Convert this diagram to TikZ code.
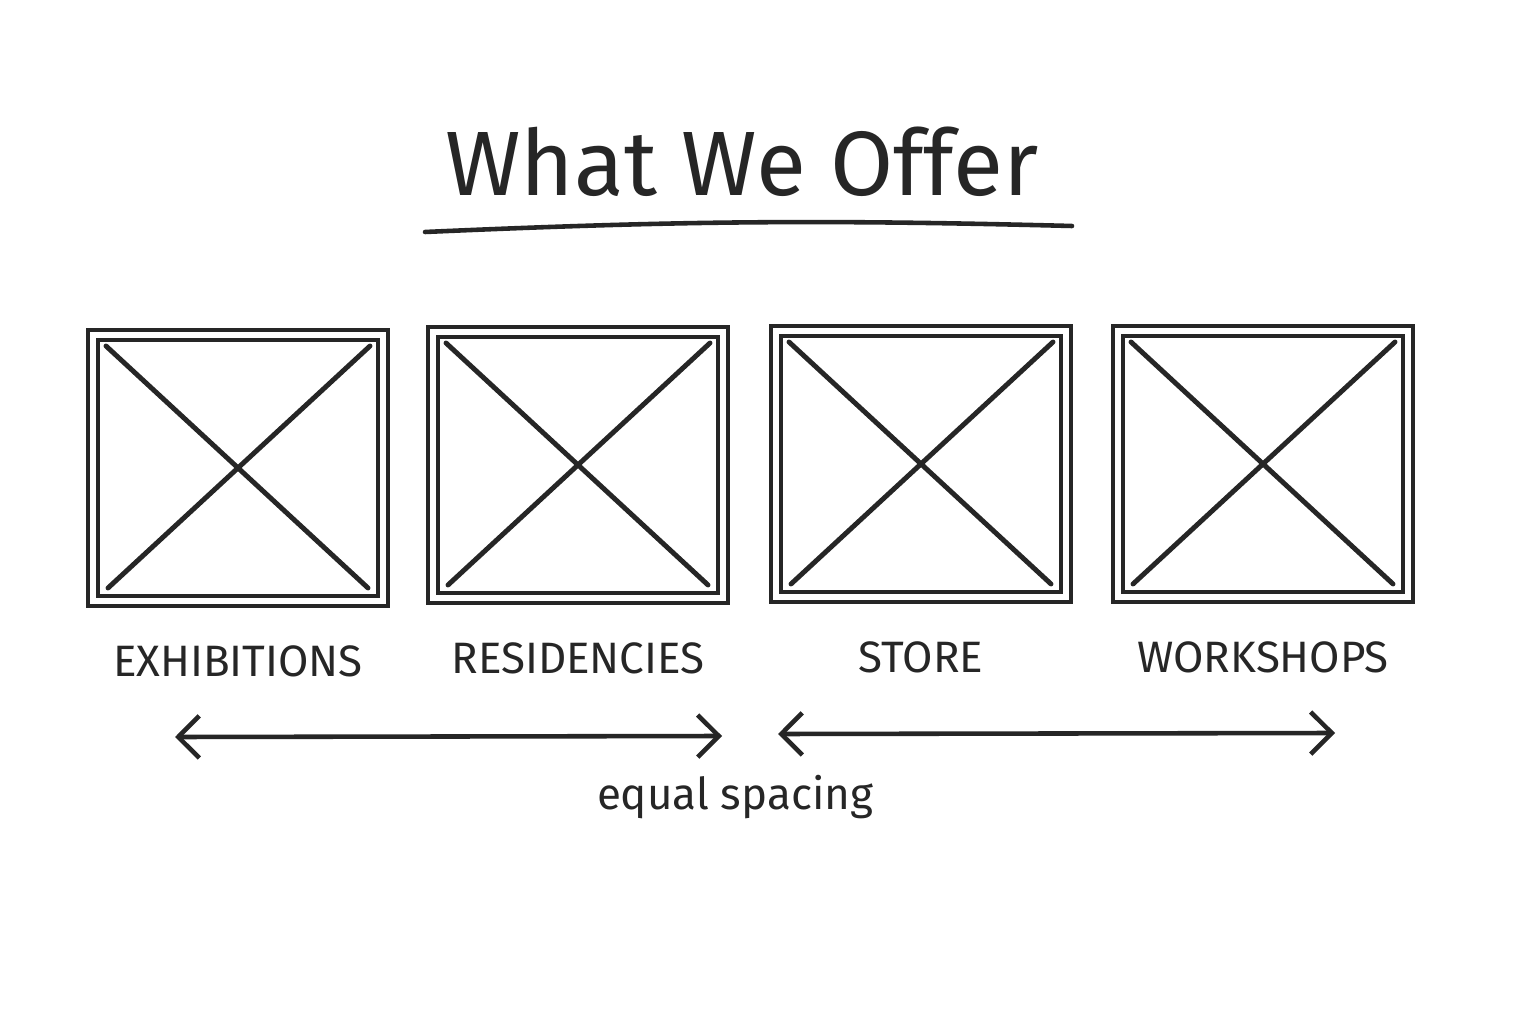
\documentclass[tikz,border=0pt]{standalone}
\usepackage{fontspec}
\setmainfont{Fira Sans}
\usetikzlibrary{positioning, arrows.meta}

\begin{document}
\begin{tikzpicture}[
        x=0.01cm, y=-0.01cm,
        ink/.style={draw=black!85},
        imgbox/.style={
            ink, line width=1.1pt, double=white, double distance=1.7pt,
            minimum width=2.9cm, minimum height=2.66cm, inner sep=0pt
        },
        xline/.style={ink, line width=1.4pt, line cap=round},
        lbl/.style={font=\fontsize{12.5}{15}\selectfont, text=black!85},
        arr/.style={ink, line width=1.3pt,
            {Straight Barb[length=6pt,width=12pt]}-{Straight Barb[length=6pt,width=12pt]}}
    ]
    \useasboundingbox[fill=white] (0,0) rectangle (1540,1025);

    % heading
    \node[font=\fontsize{26}{31}\selectfont, text=black!85] (title) at (742,162) {What We Offer};
    \coordinate (ul) at (425,232);
    \coordinate (ur) at (1072,226);
    \draw[ink, line width=1.3pt, line cap=round] (ul) to[bend left=2] (ur);

    % placeholders
    \node[imgbox] (b1) at (238,468) {};
    \node[imgbox] (b2) at (578,465) {};
    \node[imgbox] (b3) at (921,464) {};
    \node[imgbox] (b4) at (1263,464) {};

    \foreach \b in {b1,b2,b3,b4} {
        \draw[xline] ([shift={(0.15cm,-0.13cm)}]\b.north west) -- ([shift={(-0.17cm,0.15cm)}]\b.south east);
        \draw[xline] ([shift={(-0.15cm,-0.13cm)}]\b.north east) -- ([shift={(0.17cm,0.15cm)}]\b.south west);
    }

    \node[lbl, below=0.3cm of b1] (l1) {EXHIBITIONS};
    \node[lbl, below=0.3cm of b2] (l2) {RESIDENCIES};
    \node[lbl, below=0.3cm of b3] (l3) {STORE};
    \node[lbl, below=0.3cm of b4] (l4) {WORKSHOPS};

    % spacing arrows
    \coordinate (a1) at (175,737);
    \coordinate (a2) at (722,736);
    \coordinate (a3) at (778,734);
    \coordinate (a4) at (1335,733);
    \draw[arr] (a1) -- (a2);
    \draw[arr] (a3) -- (a4);

    \node[font=\fontsize{12.5}{15}\selectfont, text=black!85] (eq) at (735,797) {equal spacing};
\end{tikzpicture}
\end{document}
